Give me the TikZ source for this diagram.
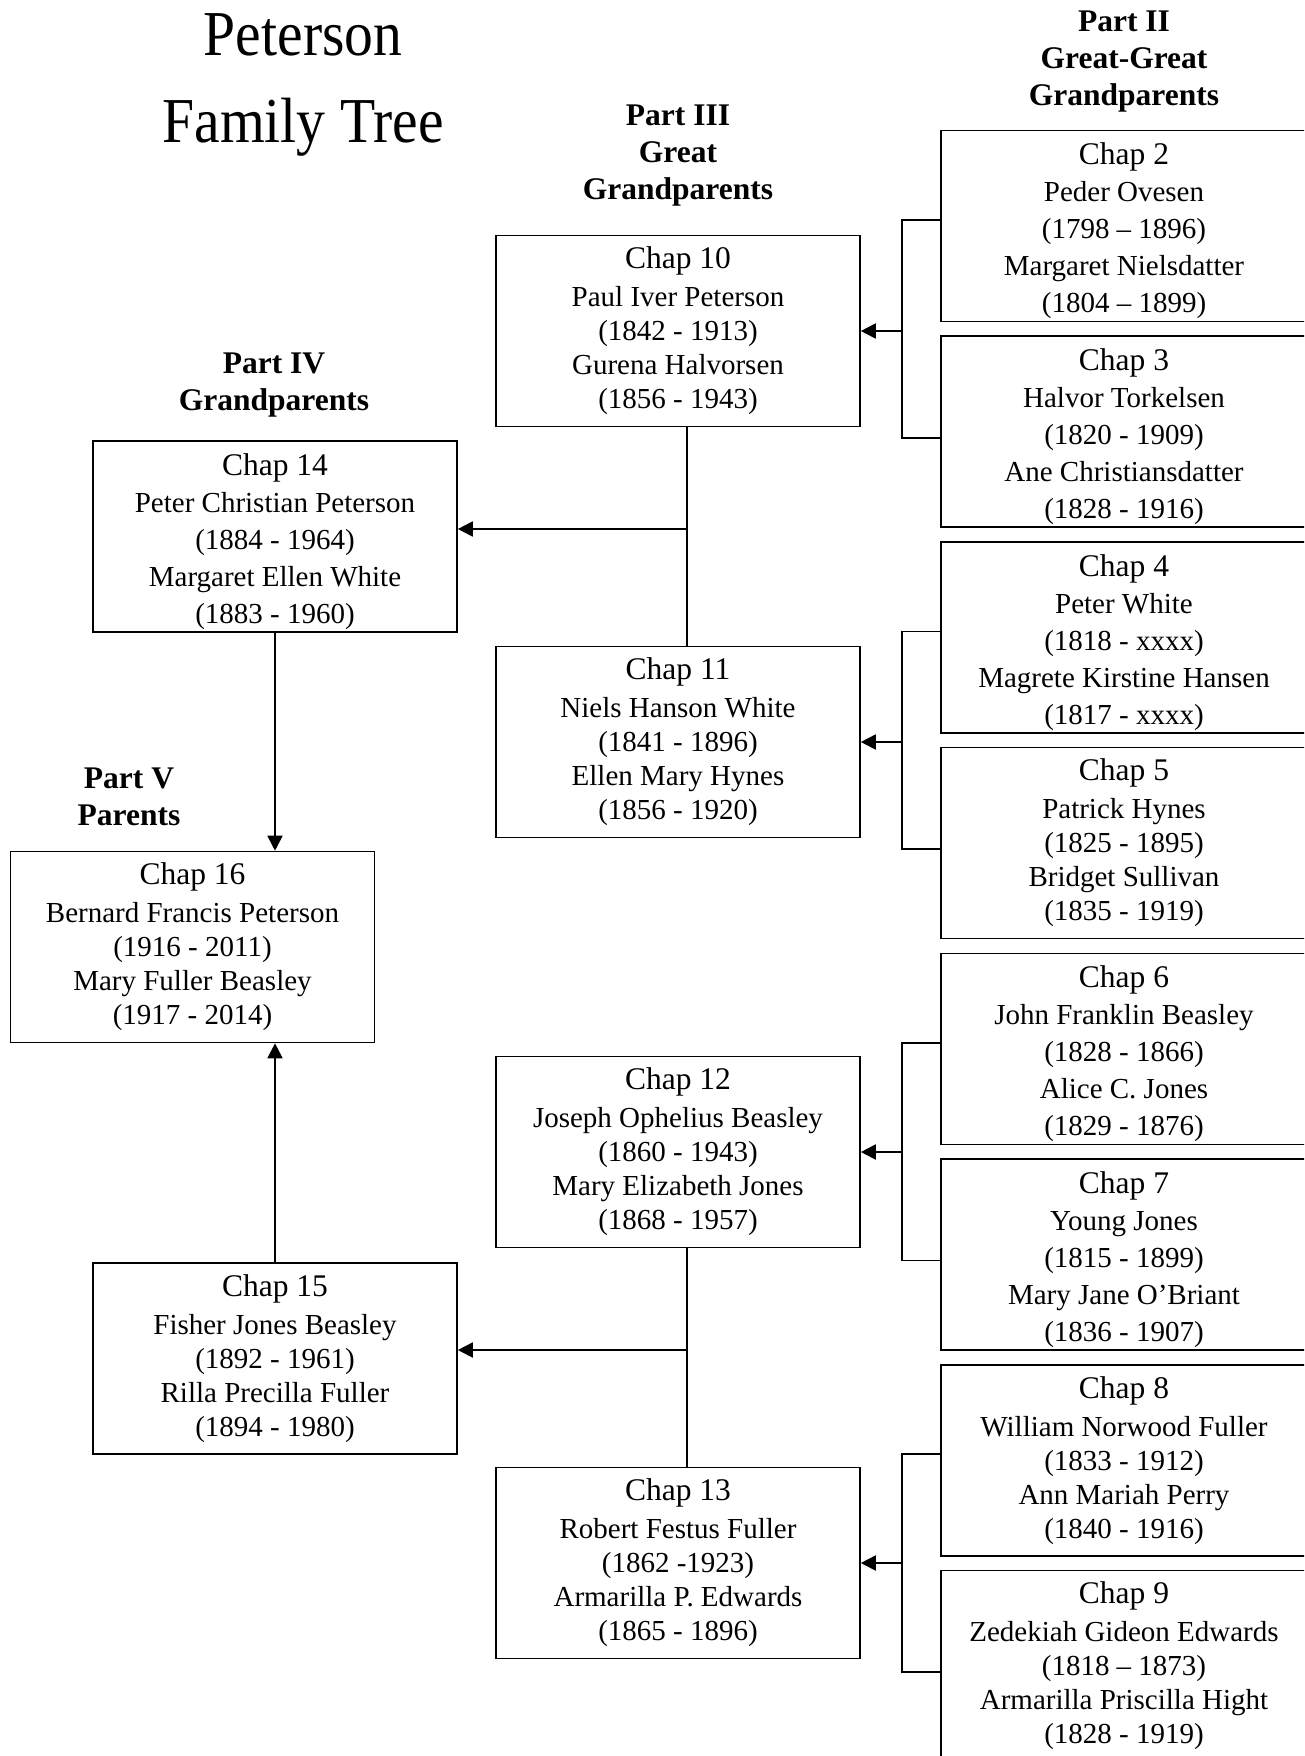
\documentclass[tikz,border=0pt]{standalone}
\usepackage{fontspec}
\setmainfont{Liberation Serif}
\newfontfamily\titlefont[FakeStretch=0.9]{Liberation Serif}
\usepackage{tikz}
\usetikzlibrary{arrows.meta,calc}

\tikzset{
  chapbox/.style={draw, rectangle, line width=1.6pt, minimum width=364pt, minimum height=191pt, inner sep=0pt, align=center},
  partlabel/.style={align=center, font=\bfseries\fontsize{31.5}{37}\selectfont},
  titleline/.style={anchor=base, font=\titlefont\fontsize{64}{88}\selectfont},
  branch/.style={line width=1.8pt},
  arr/.style={branch, -{Triangle[length=15pt,width=15pt]}}
}
% first line of a box, with a strut of height #1 (pt)
\newcommand{\chapline}[2][21]{{\fontsize{31.5}{37}\selectfont Chap #2\rule{0pt}{#1pt}}}

\begin{document}
\begin{tikzpicture}[x=1pt,y=-1pt]
\useasboundingbox (0,0) rectangle (1304,1756);
\clip (0,0) rectangle (1304,1756);

% Title
\node[titleline] (title1) at (303,55) {Peterson};
\node[titleline] (title2) at (303,142) {Family Tree};

% Part headings
\node[partlabel] (part2) at (1124,62) {Part II\\Great-Great\\Grandparents};
\node[partlabel] (part3) at (678,156) {Part III\\Great\\Grandparents};
\node[partlabel] (part4) at (274,385) {Part IV\\Grandparents};
\node[partlabel] (part5) at (129,797) {Part V\\Parents};

% Part II: great-great grandparents
\foreach \n/\sk/\husb/\hdates/\wife/\wdates in {
    2/37/Peder Ovesen/(1798 – 1896)/Margaret Nielsdatter/(1804 – 1899),
    3/37/Halvor Torkelsen/(1820 - 1909)/Ane Christiansdatter/(1828 - 1916),
    4/37/Peter White/(1818 - xxxx)/Magrete Kirstine Hansen/(1817 - xxxx),
    5/34/Patrick Hynes/(1825 - 1895)/Bridget Sullivan/(1835 - 1919),
    6/37/John Franklin Beasley/(1828 - 1866)/Alice C. Jones/(1829 - 1876),
    7/37/Young Jones/(1815 - 1899)/Mary Jane O’Briant/(1836 - 1907),
    8/34/William Norwood Fuller/(1833 - 1912)/Ann Mariah Perry/(1840 - 1916),
    9/34/Zedekiah Gideon Edwards/(1818 – 1873)/Armarilla Priscilla Hight/(1828 - 1919)} {
  \pgfmathsetmacro\ex{4*(37-\sk)/3}
  \pgfmathsetmacro\rh{21+3.5*(\sk-34)}
  \node[chapbox, minimum width=366pt, font=\fontsize{29}{\sk}\selectfont] (ch\n) at (1124,{226+205.7*(\n-2)})
    {\chapline[\rh]{\n}\\[\ex pt]\husb\\\hdates\\\wife\\\wdates};
}

% Part III: great grandparents
\foreach \n/\yy/\husb/\hdates/\wife/\wdates in {
    10/331/Paul Iver Peterson/(1842 - 1913)/Gurena Halvorsen/(1856 - 1943),
    11/742/Niels Hanson White/(1841 - 1896)/Ellen Mary Hynes/(1856 - 1920),
    12/1152/Joseph Ophelius Beasley/(1860 - 1943)/Mary Elizabeth Jones/(1868 - 1957),
    13/1563/Robert Festus Fuller/(1862 -1923)/Armarilla P. Edwards/(1865 - 1896)} {
  \node[chapbox, font=\fontsize{29}{34}\selectfont] (ch\n) at (678,\yy)
    {\chapline{\n}\\[4pt]\husb\\\hdates\\\wife\\\wdates};
}

% Part IV and V
\node[chapbox, font=\fontsize{29}{37}\selectfont] (ch14) at (275,536.5)
  {\chapline[31.5]{14}\\Peter Christian Peterson\\(1884 - 1964)\\Margaret Ellen White\\(1883 - 1960)};
\node[chapbox, font=\fontsize{29}{34}\selectfont] (ch15) at (275,1358.5)
  {\chapline{15}\\[4pt]Fisher Jones Beasley\\(1892 - 1961)\\Rilla Precilla Fuller\\(1894 - 1980)};
\node[chapbox, font=\fontsize{29}{34}\selectfont] (ch16) at (192.5,947)
  {\chapline{16}\\[4pt]Bernard Francis Peterson\\(1916 - 2011)\\Mary Fuller Beasley\\(1917 - 2014)};

% Brackets from the parents of each couple
\foreach \m in {10,...,13} {
  \pgfmathtruncatemacro\up{2*\m-18}
  \pgfmathtruncatemacro\lo{2*\m-17}
  \coordinate (j\m) at ($(ch\m.east)+(41,0)$);
  \draw[branch] ([yshift=6pt]ch\up.west) -| (j\m);
  \draw[branch] ([yshift=-6pt]ch\lo.west) -| (j\m);
  \draw[arr] (j\m) -- (ch\m.east);
}

% Couples joined to their child
\coordinate (j14) at (687,529);
\coordinate (j15) at (687,1350);
\draw[branch] (ch10.south -| j14) -- (ch11.north -| j14);
\draw[arr] (j14) -- (j14 -| ch14.east);
\draw[branch] (ch12.south -| j15) -- (ch13.north -| j15);
\draw[arr] (j15) -- (j15 -| ch15.east);

% Grandparents to parents
\draw[arr] (ch14.south) -- (ch14.south |- ch16.north);
\draw[arr] (ch15.north) -- (ch15.north |- ch16.south);
\end{tikzpicture}
\end{document}
